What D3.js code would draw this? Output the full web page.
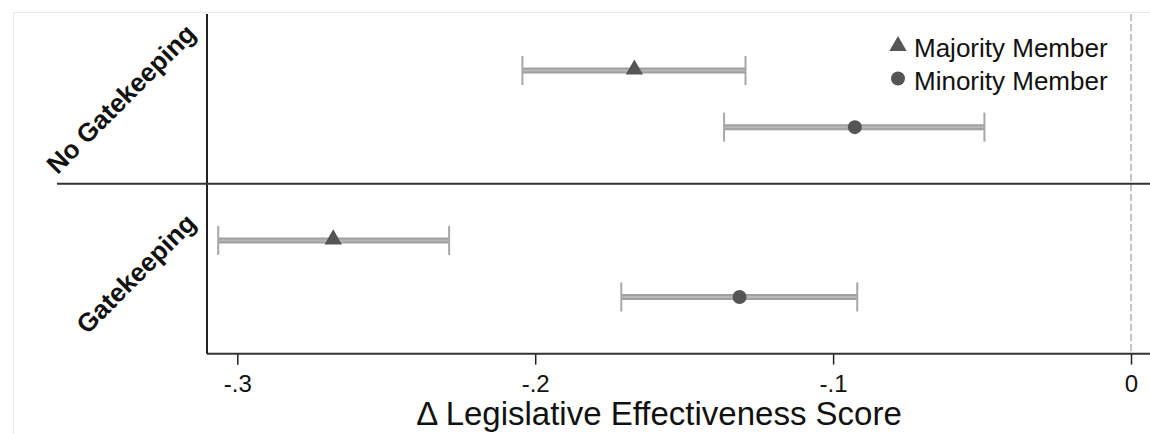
<!DOCTYPE html>
<html>
<head>
<meta charset="utf-8">
<script src="https://cdn.jsdelivr.net/npm/d3@7"></script>
<style>
  body { margin: 0; background: #fff; }
  text { font-family: "Liberation Sans", Arial, sans-serif; }
</style>
</head>
<body>
<script>
// data
var groups = ["No Gatekeeping", "Gatekeeping"];
var members = ["Majority Member", "Minority Member"];
var rowGroup = ["No Gatekeeping", "No Gatekeeping", "Gatekeeping", "Gatekeeping"];
var rowMember = ["Majority Member", "Minority Member", "Majority Member", "Minority Member"];
var estimate = [-0.1667, -0.0927, -0.2678, -0.1314];
var lower = [-0.2043, -0.1366, -0.3064, -0.1711];
var upper = [-0.1294, -0.0492, -0.2289, -0.0919];
var tickValues = [-0.3, -0.2, -0.1, 0];
var tickLabels = ["-.3", "-.2", "-.1", "0"];

var width = 1150, height = 434;

var svg = d3.select("body").append("svg")
    .attr("width", width)
    .attr("height", height);

// row slots: 0,1 | 3,4  (slot 2 is the gap between the groups)
var rowSlot = [0, 1, 3, 4];
var x = d3.scaleLinear().domain([-0.3, 0]).range([237.3, 1131]);
var y = d3.scaleLinear().domain([0, 4]).range([70.5, 297]);

var plotLeft = 207, plotRight = width;
var plotTop = y(-1), plotBottom = y(5);

// faint outer frame
svg.append("rect")
    .attr("x", 13.5).attr("y", 12.5)
    .attr("width", width).attr("height", height)
    .style("fill", "none")
    .style("stroke", "#e6ecec")
    .style("stroke-width", 1);

// zero reference line
svg.append("line")
    .attr("x1", x(0)).attr("x2", x(0))
    .attr("y1", plotTop).attr("y2", plotBottom)
    .style("stroke", "#c4c4c4")
    .style("stroke-width", 2)
    .style("stroke-dasharray", "7,3");

// x axis
var xAxis = d3.axisBottom(x)
    .tickValues(tickValues)
    .tickFormat(function (d, i) { return tickLabels[i]; })
    .tickSize(11)
    .tickPadding(10);

var gx = svg.append("g")
    .attr("transform", "translate(0," + plotBottom + ")")
    .call(xAxis);
gx.select(".domain").remove();
gx.selectAll(".tick line").style("stroke", "#222").style("stroke-width", 1.5);
gx.selectAll(".tick text")
    .style("font-size", "24px")
    .style("fill", "#111");

svg.append("line")
    .attr("x1", plotLeft).attr("x2", plotRight)
    .attr("y1", plotBottom).attr("y2", plotBottom)
    .style("stroke", "#333").style("stroke-width", 2);

svg.append("line")
    .attr("x1", plotLeft).attr("x2", plotLeft)
    .attr("y1", plotTop).attr("y2", plotBottom)
    .style("stroke", "#222").style("stroke-width", 2);

// divider between the groups
svg.append("line")
    .attr("x1", 57).attr("x2", plotRight)
    .attr("y1", y(2)).attr("y2", y(2))
    .style("stroke", "#333").style("stroke-width", 1.8);

svg.append("text")
    .attr("x", 659)
    .attr("y", 425)
    .attr("text-anchor", "middle")
    .style("font-size", "33px")
    .style("fill", "#111")
    .text("\u0394 Legislative Effectiveness Score");

// group labels, rotated 45 degrees
var labelPos = {
    "No Gatekeeping": {x: 121, y: y(0.5) + 0},
    "Gatekeeping": {x: 136, y: y(3.5) + 5}
};
svg.selectAll("text.group")
    .data(groups)
    .enter().append("text")
    .attr("class", "group")
    .attr("transform", function (d) {
        return "translate(" + labelPos[d].x + "," + labelPos[d].y + ") rotate(-45)";
    })
    .attr("text-anchor", "middle")
    .attr("dominant-baseline", "central")
    .style("font-size", "26px")
    .style("font-weight", "bold")
    .style("fill", "#111")
    .text(function (d) { return d; });

// error bars
var rows = estimate.map(function (d, i) {
    return {group: rowGroup[i], member: rowMember[i], est: d, lo: lower[i], hi: upper[i], slot: rowSlot[i]};
});

var bar = svg.selectAll("g.bar")
    .data(rows)
    .enter().append("g")
    .attr("class", "bar");

bar.append("line")
    .attr("x1", function (d) { return x(d.lo); })
    .attr("x2", function (d) { return x(d.hi); })
    .attr("y1", function (d) { return y(d.slot); })
    .attr("y2", function (d) { return y(d.slot); })
    .style("stroke", "#a0a0a0")
    .style("stroke-width", 6);

bar.append("line")
    .attr("x1", function (d) { return x(d.lo); })
    .attr("x2", function (d) { return x(d.hi); })
    .attr("y1", function (d) { return y(d.slot); })
    .attr("y2", function (d) { return y(d.slot); })
    .style("stroke", "#b8b8b8")
    .style("stroke-width", 2);

["lo", "hi"].forEach(function (k) {
    bar.append("line")
        .attr("x1", function (d) { return x(d[k]); })
        .attr("x2", function (d) { return x(d[k]); })
        .attr("y1", function (d) { return y(d.slot) - 14.5; })
        .attr("y2", function (d) { return y(d.slot) + 14.5; })
        .style("stroke", "#a8a8a8")
        .style("stroke-width", 2);
});

var triangle = d3.symbol().type(d3.symbolTriangle).size(130);
var markerColor = "#555555";

bar.filter(function (d) { return d.member === members[0]; })
    .append("path")
    .attr("d", triangle)
    .attr("transform", function (d) { return "translate(" + x(d.est) + "," + (y(d.slot) - 1) + ")"; })
    .style("fill", markerColor);

bar.filter(function (d) { return d.member === members[1]; })
    .append("circle")
    .attr("cx", function (d) { return x(d.est); })
    .attr("cy", function (d) { return y(d.slot); })
    .attr("r", 7)
    .style("fill", markerColor);

// legend
var legend = svg.selectAll("g.legend")
    .data(members)
    .enter().append("g")
    .attr("class", "legend")
    .attr("transform", function (d, i) { return "translate(898," + (46 + i * 32.5) + ")"; });

legend.filter(function (d, i) { return i === 0; })
    .append("path")
    .attr("d", triangle)
    .style("fill", markerColor);

legend.filter(function (d, i) { return i === 1; })
    .append("circle")
    .attr("r", 7)
    .style("fill", markerColor);

legend.append("text")
    .attr("x", 16)
    .attr("y", 11)
    .style("font-size", "26px")
    .style("fill", "#111")
    .text(function (d) { return d; });
</script>
</body>
</html>
